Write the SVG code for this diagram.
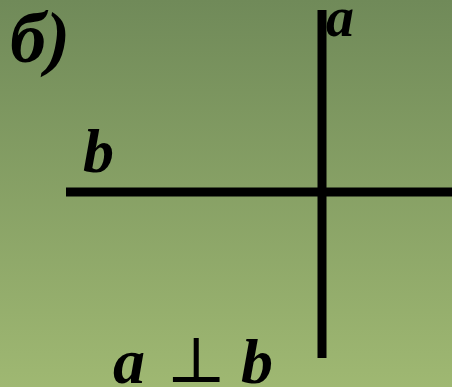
<svg xmlns="http://www.w3.org/2000/svg" width="452" height="387" viewBox="0 0 452 387">
<defs>
<linearGradient id="bg" x1="0" y1="0" x2="0" y2="1">
<stop offset="0" stop-color="#708a59"/>
<stop offset="1" stop-color="#9fb872"/>
</linearGradient>
<style>
.t{font-family:"Liberation Serif","Times New Roman",serif;font-weight:bold;font-style:italic;fill:#000}
.ln{stroke:#000;stroke-width:9;fill:none}
</style>
</defs>
<rect width="452" height="387" fill="url(#bg)"/>
<g id="label-case"><text class="t" x="10" y="62" font-size="72">б)</text></g>
<g id="connectors">
<line class="ln" x1="322" y1="10" x2="322" y2="358"/>
<line class="ln" x1="66" y1="192" x2="452" y2="192"/>
</g>
<g id="label-a"><text class="t" x="326" y="36" font-size="56">a</text></g>
<g id="label-b"><text class="t" x="83" y="172" font-size="62">b</text></g>
<g id="relation">
<text class="t" x="113" y="383" font-size="64">a</text>
<text x="166" y="382" font-size="64" font-family="'DejaVu Serif','Liberation Serif',serif" fill="#000" textLength="48">⊥</text>
<text class="t" x="241" y="383" font-size="64">b</text>
</g>
</svg>
